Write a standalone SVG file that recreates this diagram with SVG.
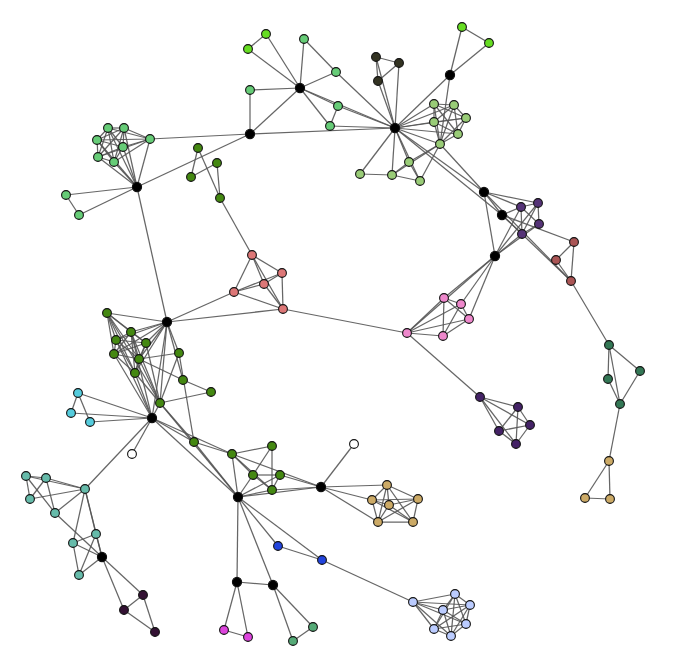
<svg xmlns="http://www.w3.org/2000/svg" width="678" height="661" viewBox="0 0 678 661">
<style>
#edges line{stroke:#555;stroke-width:1.25;stroke-opacity:0.9}
circle{stroke:#111;stroke-width:1.1}
.hub{fill:#000}
.lime{fill:#66dd22}
.lg{fill:#66cc77}
.ol{fill:#99cc77}
.dol{fill:#333322}
.dg{fill:#448811}
.sal{fill:#dd7777}
.pu{fill:#553377}
.rd{fill:#aa5555}
.pk{fill:#ee88cc}
.pu2{fill:#442266}
.te{fill:#337755}
.tan{fill:#ccaa66}
.cy{fill:#55ccdd}
.wh{fill:#ffffff}
.lt{fill:#66bbaa}
.dp{fill:#331133}
.bl{fill:#2244dd}
.mg{fill:#dd44dd}
.g2{fill:#55aa77}
.lb{fill:#bbccff}
</style>
<rect width="678" height="661" fill="#fff"/>
<g id="edges">
<line x1="266" y1="34" x2="248" y2="49"/>
<line x1="266" y1="34" x2="300" y2="88"/>
<line x1="248" y1="49" x2="300" y2="88"/>
<line x1="304" y1="39" x2="300" y2="88"/>
<line x1="304" y1="39" x2="336" y2="72"/>
<line x1="336" y1="72" x2="300" y2="88"/>
<line x1="336" y1="72" x2="395" y2="128"/>
<line x1="250" y1="90" x2="300" y2="88"/>
<line x1="250" y1="90" x2="250" y2="134"/>
<line x1="300" y1="88" x2="250" y2="134"/>
<line x1="300" y1="88" x2="338" y2="106"/>
<line x1="300" y1="88" x2="330" y2="126"/>
<line x1="338" y1="106" x2="330" y2="126"/>
<line x1="338" y1="106" x2="395" y2="128"/>
<line x1="330" y1="126" x2="395" y2="128"/>
<line x1="300" y1="88" x2="395" y2="128"/>
<line x1="250" y1="134" x2="395" y2="128"/>
<line x1="250" y1="134" x2="150" y2="139"/>
<line x1="250" y1="134" x2="137" y2="187"/>
<line x1="150" y1="139" x2="108" y2="128"/>
<line x1="150" y1="139" x2="124" y2="128"/>
<line x1="150" y1="139" x2="97" y2="140"/>
<line x1="150" y1="139" x2="123" y2="147"/>
<line x1="150" y1="139" x2="98" y2="157"/>
<line x1="150" y1="139" x2="114" y2="162"/>
<line x1="108" y1="128" x2="124" y2="128"/>
<line x1="108" y1="128" x2="97" y2="140"/>
<line x1="108" y1="128" x2="123" y2="147"/>
<line x1="108" y1="128" x2="98" y2="157"/>
<line x1="108" y1="128" x2="114" y2="162"/>
<line x1="124" y1="128" x2="97" y2="140"/>
<line x1="124" y1="128" x2="123" y2="147"/>
<line x1="124" y1="128" x2="98" y2="157"/>
<line x1="124" y1="128" x2="114" y2="162"/>
<line x1="97" y1="140" x2="123" y2="147"/>
<line x1="97" y1="140" x2="98" y2="157"/>
<line x1="97" y1="140" x2="114" y2="162"/>
<line x1="123" y1="147" x2="98" y2="157"/>
<line x1="123" y1="147" x2="114" y2="162"/>
<line x1="98" y1="157" x2="114" y2="162"/>
<line x1="150" y1="139" x2="137" y2="187"/>
<line x1="108" y1="128" x2="137" y2="187"/>
<line x1="124" y1="128" x2="137" y2="187"/>
<line x1="97" y1="140" x2="137" y2="187"/>
<line x1="123" y1="147" x2="137" y2="187"/>
<line x1="98" y1="157" x2="137" y2="187"/>
<line x1="114" y1="162" x2="137" y2="187"/>
<line x1="66" y1="195" x2="79" y2="215"/>
<line x1="66" y1="195" x2="137" y2="187"/>
<line x1="79" y1="215" x2="137" y2="187"/>
<line x1="137" y1="187" x2="167" y2="322"/>
<line x1="198" y1="148" x2="191" y2="177"/>
<line x1="198" y1="148" x2="220" y2="198"/>
<line x1="217" y1="163" x2="191" y2="177"/>
<line x1="217" y1="163" x2="220" y2="198"/>
<line x1="220" y1="198" x2="252" y2="255"/>
<line x1="376" y1="57" x2="399" y2="63"/>
<line x1="376" y1="57" x2="378" y2="81"/>
<line x1="399" y1="63" x2="378" y2="81"/>
<line x1="376" y1="57" x2="395" y2="128"/>
<line x1="399" y1="63" x2="395" y2="128"/>
<line x1="378" y1="81" x2="395" y2="128"/>
<line x1="462" y1="27" x2="489" y2="43"/>
<line x1="462" y1="27" x2="450" y2="75"/>
<line x1="489" y1="43" x2="450" y2="75"/>
<line x1="450" y1="75" x2="395" y2="128"/>
<line x1="450" y1="75" x2="440" y2="144"/>
<line x1="434" y1="104" x2="454" y2="105"/>
<line x1="434" y1="104" x2="466" y2="118"/>
<line x1="434" y1="104" x2="434" y2="122"/>
<line x1="434" y1="104" x2="458" y2="134"/>
<line x1="434" y1="104" x2="440" y2="144"/>
<line x1="454" y1="105" x2="466" y2="118"/>
<line x1="454" y1="105" x2="434" y2="122"/>
<line x1="454" y1="105" x2="458" y2="134"/>
<line x1="454" y1="105" x2="440" y2="144"/>
<line x1="466" y1="118" x2="434" y2="122"/>
<line x1="466" y1="118" x2="458" y2="134"/>
<line x1="466" y1="118" x2="440" y2="144"/>
<line x1="434" y1="122" x2="458" y2="134"/>
<line x1="434" y1="122" x2="440" y2="144"/>
<line x1="458" y1="134" x2="440" y2="144"/>
<line x1="434" y1="104" x2="395" y2="128"/>
<line x1="454" y1="105" x2="395" y2="128"/>
<line x1="466" y1="118" x2="395" y2="128"/>
<line x1="434" y1="122" x2="395" y2="128"/>
<line x1="458" y1="134" x2="395" y2="128"/>
<line x1="440" y1="144" x2="395" y2="128"/>
<line x1="409" y1="162" x2="395" y2="128"/>
<line x1="392" y1="175" x2="395" y2="128"/>
<line x1="360" y1="174" x2="395" y2="128"/>
<line x1="420" y1="181" x2="395" y2="128"/>
<line x1="360" y1="174" x2="392" y2="175"/>
<line x1="392" y1="175" x2="409" y2="162"/>
<line x1="409" y1="162" x2="420" y2="181"/>
<line x1="392" y1="175" x2="440" y2="144"/>
<line x1="409" y1="162" x2="440" y2="144"/>
<line x1="420" y1="181" x2="440" y2="144"/>
<line x1="392" y1="175" x2="420" y2="181"/>
<line x1="395" y1="128" x2="484" y2="192"/>
<line x1="395" y1="128" x2="502" y2="215"/>
<line x1="440" y1="144" x2="484" y2="192"/>
<line x1="484" y1="192" x2="502" y2="215"/>
<line x1="484" y1="192" x2="521" y2="207"/>
<line x1="484" y1="192" x2="538" y2="203"/>
<line x1="484" y1="192" x2="495" y2="256"/>
<line x1="484" y1="192" x2="571" y2="281"/>
<line x1="502" y1="215" x2="571" y2="281"/>
<line x1="502" y1="215" x2="521" y2="207"/>
<line x1="502" y1="215" x2="522" y2="234"/>
<line x1="502" y1="215" x2="574" y2="242"/>
<line x1="521" y1="207" x2="538" y2="203"/>
<line x1="521" y1="207" x2="539" y2="224"/>
<line x1="521" y1="207" x2="522" y2="234"/>
<line x1="538" y1="203" x2="539" y2="224"/>
<line x1="538" y1="203" x2="522" y2="234"/>
<line x1="539" y1="224" x2="522" y2="234"/>
<line x1="495" y1="256" x2="521" y2="207"/>
<line x1="495" y1="256" x2="538" y2="203"/>
<line x1="495" y1="256" x2="539" y2="224"/>
<line x1="495" y1="256" x2="522" y2="234"/>
<line x1="574" y1="242" x2="556" y2="260"/>
<line x1="574" y1="242" x2="571" y2="281"/>
<line x1="556" y1="260" x2="571" y2="281"/>
<line x1="571" y1="281" x2="609" y2="345"/>
<line x1="495" y1="256" x2="444" y2="298"/>
<line x1="495" y1="256" x2="461" y2="304"/>
<line x1="495" y1="256" x2="469" y2="319"/>
<line x1="495" y1="256" x2="407" y2="333"/>
<line x1="407" y1="333" x2="444" y2="298"/>
<line x1="407" y1="333" x2="461" y2="304"/>
<line x1="407" y1="333" x2="469" y2="319"/>
<line x1="407" y1="333" x2="443" y2="336"/>
<line x1="444" y1="298" x2="461" y2="304"/>
<line x1="444" y1="298" x2="443" y2="336"/>
<line x1="444" y1="298" x2="469" y2="319"/>
<line x1="461" y1="304" x2="469" y2="319"/>
<line x1="461" y1="304" x2="443" y2="336"/>
<line x1="469" y1="319" x2="443" y2="336"/>
<line x1="407" y1="333" x2="283" y2="309"/>
<line x1="407" y1="333" x2="480" y2="397"/>
<line x1="480" y1="397" x2="518" y2="407"/>
<line x1="480" y1="397" x2="499" y2="431"/>
<line x1="480" y1="397" x2="516" y2="444"/>
<line x1="480" y1="397" x2="530" y2="425"/>
<line x1="518" y1="407" x2="499" y2="431"/>
<line x1="518" y1="407" x2="516" y2="444"/>
<line x1="518" y1="407" x2="530" y2="425"/>
<line x1="499" y1="431" x2="530" y2="425"/>
<line x1="499" y1="431" x2="516" y2="444"/>
<line x1="530" y1="425" x2="516" y2="444"/>
<line x1="609" y1="345" x2="640" y2="371"/>
<line x1="609" y1="345" x2="608" y2="379"/>
<line x1="609" y1="345" x2="620" y2="404"/>
<line x1="640" y1="371" x2="620" y2="404"/>
<line x1="608" y1="379" x2="620" y2="404"/>
<line x1="620" y1="404" x2="609" y2="461"/>
<line x1="609" y1="461" x2="585" y2="498"/>
<line x1="609" y1="461" x2="610" y2="499"/>
<line x1="585" y1="498" x2="610" y2="499"/>
<line x1="252" y1="255" x2="234" y2="292"/>
<line x1="252" y1="255" x2="264" y2="284"/>
<line x1="252" y1="255" x2="283" y2="309"/>
<line x1="252" y1="255" x2="282" y2="273"/>
<line x1="282" y1="273" x2="264" y2="284"/>
<line x1="282" y1="273" x2="283" y2="309"/>
<line x1="282" y1="273" x2="234" y2="292"/>
<line x1="264" y1="284" x2="234" y2="292"/>
<line x1="264" y1="284" x2="283" y2="309"/>
<line x1="234" y1="292" x2="283" y2="309"/>
<line x1="234" y1="292" x2="167" y2="322"/>
<line x1="283" y1="309" x2="167" y2="322"/>
<line x1="107" y1="313" x2="131" y2="332"/>
<line x1="107" y1="313" x2="116" y2="340"/>
<line x1="107" y1="313" x2="146" y2="343"/>
<line x1="107" y1="313" x2="114" y2="354"/>
<line x1="107" y1="313" x2="139" y2="359"/>
<line x1="107" y1="313" x2="135" y2="373"/>
<line x1="131" y1="332" x2="116" y2="340"/>
<line x1="131" y1="332" x2="146" y2="343"/>
<line x1="131" y1="332" x2="114" y2="354"/>
<line x1="131" y1="332" x2="139" y2="359"/>
<line x1="131" y1="332" x2="135" y2="373"/>
<line x1="116" y1="340" x2="146" y2="343"/>
<line x1="116" y1="340" x2="114" y2="354"/>
<line x1="116" y1="340" x2="139" y2="359"/>
<line x1="116" y1="340" x2="135" y2="373"/>
<line x1="146" y1="343" x2="114" y2="354"/>
<line x1="146" y1="343" x2="139" y2="359"/>
<line x1="146" y1="343" x2="135" y2="373"/>
<line x1="114" y1="354" x2="139" y2="359"/>
<line x1="114" y1="354" x2="135" y2="373"/>
<line x1="139" y1="359" x2="135" y2="373"/>
<line x1="107" y1="313" x2="167" y2="322"/>
<line x1="131" y1="332" x2="167" y2="322"/>
<line x1="116" y1="340" x2="167" y2="322"/>
<line x1="146" y1="343" x2="167" y2="322"/>
<line x1="114" y1="354" x2="167" y2="322"/>
<line x1="139" y1="359" x2="167" y2="322"/>
<line x1="135" y1="373" x2="167" y2="322"/>
<line x1="107" y1="313" x2="160" y2="403"/>
<line x1="131" y1="332" x2="160" y2="403"/>
<line x1="146" y1="343" x2="160" y2="403"/>
<line x1="139" y1="359" x2="160" y2="403"/>
<line x1="135" y1="373" x2="160" y2="403"/>
<line x1="116" y1="340" x2="152" y2="418"/>
<line x1="114" y1="354" x2="152" y2="418"/>
<line x1="135" y1="373" x2="152" y2="418"/>
<line x1="131" y1="332" x2="152" y2="418"/>
<line x1="167" y1="322" x2="179" y2="353"/>
<line x1="167" y1="322" x2="183" y2="380"/>
<line x1="167" y1="322" x2="160" y2="403"/>
<line x1="167" y1="322" x2="152" y2="418"/>
<line x1="179" y1="353" x2="160" y2="403"/>
<line x1="179" y1="353" x2="139" y2="359"/>
<line x1="183" y1="380" x2="139" y2="359"/>
<line x1="179" y1="353" x2="194" y2="442"/>
<line x1="183" y1="380" x2="211" y2="392"/>
<line x1="211" y1="392" x2="160" y2="403"/>
<line x1="152" y1="418" x2="160" y2="403"/>
<line x1="152" y1="418" x2="78" y2="393"/>
<line x1="152" y1="418" x2="71" y2="413"/>
<line x1="152" y1="418" x2="90" y2="422"/>
<line x1="78" y1="393" x2="71" y2="413"/>
<line x1="78" y1="393" x2="90" y2="422"/>
<line x1="152" y1="418" x2="132" y2="454"/>
<line x1="152" y1="418" x2="85" y2="489"/>
<line x1="152" y1="418" x2="194" y2="442"/>
<line x1="152" y1="418" x2="238" y2="497"/>
<line x1="152" y1="418" x2="232" y2="454"/>
<line x1="160" y1="403" x2="194" y2="442"/>
<line x1="160" y1="403" x2="238" y2="497"/>
<line x1="194" y1="442" x2="238" y2="497"/>
<line x1="194" y1="442" x2="232" y2="454"/>
<line x1="26" y1="476" x2="46" y2="478"/>
<line x1="26" y1="476" x2="30" y2="499"/>
<line x1="26" y1="476" x2="55" y2="513"/>
<line x1="46" y1="478" x2="30" y2="499"/>
<line x1="46" y1="478" x2="55" y2="513"/>
<line x1="26" y1="476" x2="85" y2="489"/>
<line x1="46" y1="478" x2="85" y2="489"/>
<line x1="30" y1="499" x2="85" y2="489"/>
<line x1="55" y1="513" x2="85" y2="489"/>
<line x1="85" y1="489" x2="96" y2="534"/>
<line x1="85" y1="489" x2="102" y2="557"/>
<line x1="85" y1="489" x2="73" y2="543"/>
<line x1="55" y1="513" x2="102" y2="557"/>
<line x1="96" y1="534" x2="73" y2="543"/>
<line x1="96" y1="534" x2="102" y2="557"/>
<line x1="96" y1="534" x2="79" y2="575"/>
<line x1="73" y1="543" x2="102" y2="557"/>
<line x1="73" y1="543" x2="79" y2="575"/>
<line x1="102" y1="557" x2="79" y2="575"/>
<line x1="102" y1="557" x2="143" y2="595"/>
<line x1="102" y1="557" x2="124" y2="610"/>
<line x1="143" y1="595" x2="124" y2="610"/>
<line x1="143" y1="595" x2="155" y2="632"/>
<line x1="124" y1="610" x2="155" y2="632"/>
<line x1="232" y1="454" x2="272" y2="446"/>
<line x1="232" y1="454" x2="253" y2="475"/>
<line x1="232" y1="454" x2="272" y2="490"/>
<line x1="232" y1="454" x2="238" y2="497"/>
<line x1="272" y1="446" x2="272" y2="490"/>
<line x1="272" y1="446" x2="253" y2="475"/>
<line x1="253" y1="475" x2="280" y2="475"/>
<line x1="253" y1="475" x2="272" y2="490"/>
<line x1="280" y1="475" x2="272" y2="490"/>
<line x1="253" y1="475" x2="238" y2="497"/>
<line x1="280" y1="475" x2="238" y2="497"/>
<line x1="272" y1="490" x2="238" y2="497"/>
<line x1="232" y1="454" x2="321" y2="487"/>
<line x1="238" y1="497" x2="321" y2="487"/>
<line x1="272" y1="490" x2="321" y2="487"/>
<line x1="280" y1="475" x2="321" y2="487"/>
<line x1="321" y1="487" x2="354" y2="444"/>
<line x1="321" y1="487" x2="387" y2="485"/>
<line x1="321" y1="487" x2="372" y2="500"/>
<line x1="321" y1="487" x2="378" y2="522"/>
<line x1="387" y1="485" x2="372" y2="500"/>
<line x1="387" y1="485" x2="389" y2="505"/>
<line x1="387" y1="485" x2="418" y2="499"/>
<line x1="387" y1="485" x2="378" y2="522"/>
<line x1="387" y1="485" x2="413" y2="522"/>
<line x1="372" y1="500" x2="389" y2="505"/>
<line x1="372" y1="500" x2="418" y2="499"/>
<line x1="372" y1="500" x2="378" y2="522"/>
<line x1="372" y1="500" x2="413" y2="522"/>
<line x1="389" y1="505" x2="418" y2="499"/>
<line x1="389" y1="505" x2="378" y2="522"/>
<line x1="389" y1="505" x2="413" y2="522"/>
<line x1="418" y1="499" x2="378" y2="522"/>
<line x1="418" y1="499" x2="413" y2="522"/>
<line x1="378" y1="522" x2="413" y2="522"/>
<line x1="238" y1="497" x2="278" y2="546"/>
<line x1="238" y1="497" x2="322" y2="560"/>
<line x1="278" y1="546" x2="322" y2="560"/>
<line x1="322" y1="560" x2="413" y2="602"/>
<line x1="238" y1="497" x2="237" y2="582"/>
<line x1="238" y1="497" x2="273" y2="585"/>
<line x1="237" y1="582" x2="273" y2="585"/>
<line x1="237" y1="582" x2="224" y2="630"/>
<line x1="237" y1="582" x2="248" y2="637"/>
<line x1="224" y1="630" x2="248" y2="637"/>
<line x1="273" y1="585" x2="293" y2="641"/>
<line x1="273" y1="585" x2="313" y2="627"/>
<line x1="293" y1="641" x2="313" y2="627"/>
<line x1="413" y1="602" x2="455" y2="594"/>
<line x1="413" y1="602" x2="470" y2="605"/>
<line x1="413" y1="602" x2="443" y2="610"/>
<line x1="413" y1="602" x2="466" y2="624"/>
<line x1="413" y1="602" x2="434" y2="629"/>
<line x1="413" y1="602" x2="451" y2="636"/>
<line x1="455" y1="594" x2="470" y2="605"/>
<line x1="455" y1="594" x2="443" y2="610"/>
<line x1="455" y1="594" x2="466" y2="624"/>
<line x1="455" y1="594" x2="434" y2="629"/>
<line x1="455" y1="594" x2="451" y2="636"/>
<line x1="470" y1="605" x2="443" y2="610"/>
<line x1="470" y1="605" x2="466" y2="624"/>
<line x1="470" y1="605" x2="434" y2="629"/>
<line x1="470" y1="605" x2="451" y2="636"/>
<line x1="443" y1="610" x2="466" y2="624"/>
<line x1="443" y1="610" x2="434" y2="629"/>
<line x1="443" y1="610" x2="451" y2="636"/>
<line x1="466" y1="624" x2="434" y2="629"/>
<line x1="466" y1="624" x2="451" y2="636"/>
<line x1="434" y1="629" x2="451" y2="636"/>
</g>
<g id="nodes">
<g id="h1"><circle class="hub" cx="300" cy="88" r="4.6"/></g>
<g id="h2"><circle class="hub" cx="250" cy="134" r="4.6"/></g>
<g id="h3"><circle class="hub" cx="395" cy="128" r="4.6"/></g>
<g id="h4"><circle class="hub" cx="450" cy="75" r="4.6"/></g>
<g id="h5"><circle class="hub" cx="137" cy="187" r="4.6"/></g>
<g id="h6"><circle class="hub" cx="484" cy="192" r="4.6"/></g>
<g id="h7"><circle class="hub" cx="502" cy="215" r="4.6"/></g>
<g id="h8"><circle class="hub" cx="495" cy="256" r="4.6"/></g>
<g id="h9"><circle class="hub" cx="167" cy="322" r="4.6"/></g>
<g id="h10"><circle class="hub" cx="152" cy="418" r="4.6"/></g>
<g id="h11"><circle class="hub" cx="238" cy="497" r="4.6"/></g>
<g id="h12"><circle class="hub" cx="321" cy="487" r="4.6"/></g>
<g id="h13"><circle class="hub" cx="237" cy="582" r="4.6"/></g>
<g id="h14"><circle class="hub" cx="273" cy="585" r="4.6"/></g>
<g id="h15"><circle class="hub" cx="102" cy="557" r="4.6"/></g>
<g id="L1"><circle class="lime" cx="266" cy="34" r="4.4"/></g>
<g id="L2"><circle class="lime" cx="248" cy="49" r="4.4"/></g>
<g id="L3"><circle class="lime" cx="462" cy="27" r="4.4"/></g>
<g id="L4"><circle class="lime" cx="489" cy="43" r="4.4"/></g>
<g id="g1"><circle class="lg" cx="304" cy="39" r="4.4"/></g>
<g id="g2"><circle class="lg" cx="336" cy="72" r="4.4"/></g>
<g id="g3"><circle class="lg" cx="250" cy="90" r="4.4"/></g>
<g id="g4"><circle class="lg" cx="338" cy="106" r="4.4"/></g>
<g id="g5"><circle class="lg" cx="330" cy="126" r="4.4"/></g>
<g id="g6"><circle class="lg" cx="150" cy="139" r="4.4"/></g>
<g id="g7"><circle class="lg" cx="108" cy="128" r="4.4"/></g>
<g id="g8"><circle class="lg" cx="124" cy="128" r="4.4"/></g>
<g id="g9"><circle class="lg" cx="97" cy="140" r="4.4"/></g>
<g id="g10"><circle class="lg" cx="123" cy="147" r="4.4"/></g>
<g id="g11"><circle class="lg" cx="98" cy="157" r="4.4"/></g>
<g id="g12"><circle class="lg" cx="114" cy="162" r="4.4"/></g>
<g id="g13"><circle class="lg" cx="66" cy="195" r="4.4"/></g>
<g id="g14"><circle class="lg" cx="79" cy="215" r="4.4"/></g>
<g id="o1"><circle class="dol" cx="376" cy="57" r="4.4"/></g>
<g id="o2"><circle class="dol" cx="399" cy="63" r="4.4"/></g>
<g id="o3"><circle class="dol" cx="378" cy="81" r="4.4"/></g>
<g id="a1"><circle class="ol" cx="434" cy="104" r="4.4"/></g>
<g id="a2"><circle class="ol" cx="454" cy="105" r="4.4"/></g>
<g id="a3"><circle class="ol" cx="466" cy="118" r="4.4"/></g>
<g id="a4"><circle class="ol" cx="434" cy="122" r="4.4"/></g>
<g id="a5"><circle class="ol" cx="458" cy="134" r="4.4"/></g>
<g id="a6"><circle class="ol" cx="440" cy="144" r="4.4"/></g>
<g id="a7"><circle class="ol" cx="409" cy="162" r="4.4"/></g>
<g id="a8"><circle class="ol" cx="392" cy="175" r="4.4"/></g>
<g id="a9"><circle class="ol" cx="360" cy="174" r="4.4"/></g>
<g id="a10"><circle class="ol" cx="420" cy="181" r="4.4"/></g>
<g id="d1"><circle class="dg" cx="198" cy="148" r="4.4"/></g>
<g id="d2"><circle class="dg" cx="217" cy="163" r="4.4"/></g>
<g id="d3"><circle class="dg" cx="191" cy="177" r="4.4"/></g>
<g id="d4"><circle class="dg" cx="220" cy="198" r="4.4"/></g>
<g id="s1"><circle class="sal" cx="252" cy="255" r="4.4"/></g>
<g id="s2"><circle class="sal" cx="282" cy="273" r="4.4"/></g>
<g id="s3"><circle class="sal" cx="264" cy="284" r="4.4"/></g>
<g id="s4"><circle class="sal" cx="234" cy="292" r="4.4"/></g>
<g id="s5"><circle class="sal" cx="283" cy="309" r="4.4"/></g>
<g id="p1"><circle class="pu" cx="521" cy="207" r="4.4"/></g>
<g id="p2"><circle class="pu" cx="538" cy="203" r="4.4"/></g>
<g id="p3"><circle class="pu" cx="539" cy="224" r="4.4"/></g>
<g id="p4"><circle class="pu" cx="522" cy="234" r="4.4"/></g>
<g id="r1"><circle class="rd" cx="574" cy="242" r="4.4"/></g>
<g id="r2"><circle class="rd" cx="556" cy="260" r="4.4"/></g>
<g id="r3"><circle class="rd" cx="571" cy="281" r="4.4"/></g>
<g id="k1"><circle class="pk" cx="444" cy="298" r="4.4"/></g>
<g id="k2"><circle class="pk" cx="461" cy="304" r="4.4"/></g>
<g id="k3"><circle class="pk" cx="469" cy="319" r="4.4"/></g>
<g id="k4"><circle class="pk" cx="407" cy="333" r="4.4"/></g>
<g id="k5"><circle class="pk" cx="443" cy="336" r="4.4"/></g>
<g id="q1"><circle class="pu2" cx="480" cy="397" r="4.4"/></g>
<g id="q2"><circle class="pu2" cx="518" cy="407" r="4.4"/></g>
<g id="q3"><circle class="pu2" cx="530" cy="425" r="4.4"/></g>
<g id="q4"><circle class="pu2" cx="499" cy="431" r="4.4"/></g>
<g id="q5"><circle class="pu2" cx="516" cy="444" r="4.4"/></g>
<g id="t1"><circle class="te" cx="609" cy="345" r="4.4"/></g>
<g id="t2"><circle class="te" cx="640" cy="371" r="4.4"/></g>
<g id="t3"><circle class="te" cx="608" cy="379" r="4.4"/></g>
<g id="t4"><circle class="te" cx="620" cy="404" r="4.4"/></g>
<g id="u1"><circle class="tan" cx="609" cy="461" r="4.4"/></g>
<g id="u2"><circle class="tan" cx="585" cy="498" r="4.4"/></g>
<g id="u3"><circle class="tan" cx="610" cy="499" r="4.4"/></g>
<g id="e1"><circle class="dg" cx="107" cy="313" r="4.4"/></g>
<g id="e2"><circle class="dg" cx="131" cy="332" r="4.4"/></g>
<g id="e3"><circle class="dg" cx="116" cy="340" r="4.4"/></g>
<g id="e4"><circle class="dg" cx="146" cy="343" r="4.4"/></g>
<g id="e5"><circle class="dg" cx="114" cy="354" r="4.4"/></g>
<g id="e6"><circle class="dg" cx="139" cy="359" r="4.4"/></g>
<g id="e7"><circle class="dg" cx="135" cy="373" r="4.4"/></g>
<g id="e8"><circle class="dg" cx="179" cy="353" r="4.4"/></g>
<g id="e9"><circle class="dg" cx="183" cy="380" r="4.4"/></g>
<g id="e10"><circle class="dg" cx="211" cy="392" r="4.4"/></g>
<g id="e11"><circle class="dg" cx="160" cy="403" r="4.4"/></g>
<g id="e12"><circle class="dg" cx="194" cy="442" r="4.4"/></g>
<g id="c1"><circle class="cy" cx="78" cy="393" r="4.4"/></g>
<g id="c2"><circle class="cy" cx="71" cy="413" r="4.4"/></g>
<g id="c3"><circle class="cy" cx="90" cy="422" r="4.4"/></g>
<g id="w1"><circle class="wh" cx="132" cy="454" r="4.4"/></g>
<g id="w2"><circle class="wh" cx="354" cy="444" r="4.4"/></g>
<g id="m1"><circle class="lt" cx="26" cy="476" r="4.4"/></g>
<g id="m2"><circle class="lt" cx="46" cy="478" r="4.4"/></g>
<g id="m3"><circle class="lt" cx="85" cy="489" r="4.4"/></g>
<g id="m4"><circle class="lt" cx="30" cy="499" r="4.4"/></g>
<g id="m5"><circle class="lt" cx="55" cy="513" r="4.4"/></g>
<g id="m6"><circle class="lt" cx="96" cy="534" r="4.4"/></g>
<g id="m7"><circle class="lt" cx="73" cy="543" r="4.4"/></g>
<g id="m8"><circle class="lt" cx="79" cy="575" r="4.4"/></g>
<g id="b1"><circle class="dp" cx="143" cy="595" r="4.4"/></g>
<g id="b2"><circle class="dp" cx="124" cy="610" r="4.4"/></g>
<g id="b3"><circle class="dp" cx="155" cy="632" r="4.4"/></g>
<g id="f1"><circle class="dg" cx="232" cy="454" r="4.4"/></g>
<g id="f2"><circle class="dg" cx="272" cy="446" r="4.4"/></g>
<g id="f3"><circle class="dg" cx="253" cy="475" r="4.4"/></g>
<g id="f4"><circle class="dg" cx="280" cy="475" r="4.4"/></g>
<g id="f5"><circle class="dg" cx="272" cy="490" r="4.4"/></g>
<g id="n1"><circle class="tan" cx="387" cy="485" r="4.4"/></g>
<g id="n2"><circle class="tan" cx="372" cy="500" r="4.4"/></g>
<g id="n3"><circle class="tan" cx="389" cy="505" r="4.4"/></g>
<g id="n4"><circle class="tan" cx="418" cy="499" r="4.4"/></g>
<g id="n5"><circle class="tan" cx="378" cy="522" r="4.4"/></g>
<g id="n6"><circle class="tan" cx="413" cy="522" r="4.4"/></g>
<g id="v1"><circle class="bl" cx="278" cy="546" r="4.4"/></g>
<g id="v2"><circle class="bl" cx="322" cy="560" r="4.4"/></g>
<g id="x1"><circle class="mg" cx="224" cy="630" r="4.4"/></g>
<g id="x2"><circle class="mg" cx="248" cy="637" r="4.4"/></g>
<g id="y1"><circle class="g2" cx="293" cy="641" r="4.4"/></g>
<g id="y2"><circle class="g2" cx="313" cy="627" r="4.4"/></g>
<g id="z1"><circle class="lb" cx="413" cy="602" r="4.4"/></g>
<g id="z2"><circle class="lb" cx="455" cy="594" r="4.4"/></g>
<g id="z3"><circle class="lb" cx="470" cy="605" r="4.4"/></g>
<g id="z4"><circle class="lb" cx="443" cy="610" r="4.4"/></g>
<g id="z5"><circle class="lb" cx="466" cy="624" r="4.4"/></g>
<g id="z6"><circle class="lb" cx="434" cy="629" r="4.4"/></g>
<g id="z7"><circle class="lb" cx="451" cy="636" r="4.4"/></g>
</g>
</svg>
